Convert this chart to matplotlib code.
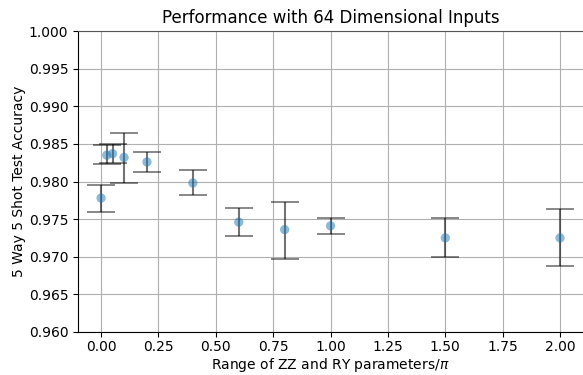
import numpy as np
import matplotlib
matplotlib.use("Agg")
import matplotlib.pyplot as plt

# range of ZZ / RY parameters (units of pi)
ranges = [0.0, 0.025, 0.05, 0.1, 0.2, 0.4, 0.6, 0.8, 1.0, 1.5, 2.0]
acc_mean = [0.9778, 0.9835, 0.9837, 0.9832, 0.9826, 0.9798, 0.9746, 0.9736, 0.9741, 0.9725, 0.9725]
acc_high = [0.9796, 0.9848, 0.9850, 0.9865, 0.9839, 0.9815, 0.9765, 0.9773, 0.9752, 0.9751, 0.9764]
acc_low = [0.9760, 0.9823, 0.9824, 0.9798, 0.9812, 0.9782, 0.9727, 0.9697, 0.9730, 0.9699, 0.9687]

mean = np.array(acc_mean)
yerr = [mean - np.array(acc_low), np.array(acc_high) - mean]

fig = plt.figure(figsize=(5.83, 3.75), dpi=100)
ax = fig.add_axes([0.134, 0.115, 0.866, 0.802])

ax.grid(True, color="#b0b0b0", linewidth=0.8)
ax.set_axisbelow(True)
ax.errorbar(ranges, acc_mean, yerr=yerr, fmt="none", ecolor="black",
            alpha=0.55, capsize=10, elinewidth=1.5, capthick=1.2)
ax.scatter(ranges, acc_mean, s=45, color="#1f77b4", alpha=0.5, zorder=3,
           edgecolors="none")

ax.set_xlim(-0.1, 2.1)
ax.set_ylim(0.96, 1.0)
ax.set_xticks([0.0, 0.25, 0.5, 0.75, 1.0, 1.25, 1.5, 1.75, 2.0])
ax.set_yticks(np.arange(0.960, 1.0001, 0.005))
ax.xaxis.set_major_formatter(matplotlib.ticker.FormatStrFormatter("%.2f"))
ax.yaxis.set_major_formatter(matplotlib.ticker.FormatStrFormatter("%.3f"))
ax.tick_params(axis="x", pad=2.5)

ax.spines["right"].set_visible(False)
ax.spines["top"].set_color("#555555")

ax.set_title("Performance with 64 Dimensional Inputs", fontsize=12)
ax.set_xlabel(r"Range of ZZ and RY parameters/$\pi$", fontsize=10, labelpad=1.5)
ax.set_ylabel("5 Way 5 Shot Test Accuracy", fontsize=10, labelpad=2)

fig.savefig("out.png", dpi=100)
